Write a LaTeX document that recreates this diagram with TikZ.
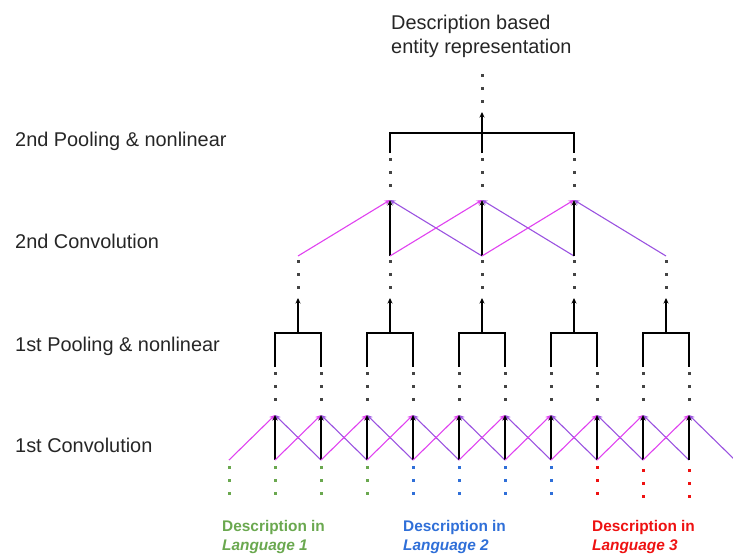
\documentclass[tikz,border=0pt]{standalone}
\usepackage{fontspec}
\setmainfont{Liberation Sans}
\usetikzlibrary{arrows.meta}
\definecolor{mag}{HTML}{E042F0}
\definecolor{pur}{HTML}{9A52E0}
\definecolor{lgreen}{HTML}{6AA84F}
\definecolor{lblue}{HTML}{2F6FD8}
\definecolor{lred}{HTML}{EE1111}
\definecolor{dotgray}{HTML}{444444}
\begin{document}
\begin{tikzpicture}[x=1pt,y=-1pt,
  conn/.style={line width=1.1pt, -{Stealth[length=5.5pt,width=5pt]}},
  bracket/.style={line width=1.1pt, black},
  dotmark/.style={fill=#1, minimum size=3pt, inner sep=0pt, shape=rectangle},
  lab/.style={font=\fontsize{19.9}{23}\selectfont, anchor=base west, text=black!85, inner sep=0pt},
  langlab/.style={font=\fontsize{15.4}{19}\selectfont\bfseries, anchor=base west, text=#1, inner sep=0pt}
]
\clip (0,0) rectangle (733,558);
\useasboundingbox (0,0) rectangle (733,558);

% ---------- labels ----------
\node[lab] (l1) at (15,146) {2nd Pooling \& nonlinear};
\node[lab] (l2) at (15,248) {2nd Convolution};
\node[lab] (l3) at (15,351) {1st Pooling \& nonlinear};
\node[lab] (l4) at (15,452) {1st Convolution};
\node[lab] (topa) at (391,29) {Description based};
\node[lab] (topb) at (391,53) {entity representation};

\node[langlab=lgreen] (g1) at (222,531) {Description in};
\node[langlab=lgreen] (g2) at (222,550) {\itshape Language 1};
\node[langlab=lblue] (u1) at (403,531) {Description in};
\node[langlab=lblue] (u2) at (403,550) {\itshape Language 2};
\node[langlab=lred] (r1) at (592,531) {Description in};
\node[langlab=lred] (r2) at (592,550) {\itshape Language 3};

% ---------- input dots ----------
\foreach \i/\c/\o in {0/lgreen/0,1/lgreen/0,2/lgreen/0,3/lgreen/0,4/lblue/0,5/lblue/0,6/lblue/0,7/lblue/0,8/lred/0,9/lred/3,10/lred/3}{
  \foreach \k/\y in {1/467,2/480,3/493}{
    \node[dotmark=\c] (in\i-\k) at ({229+46*\i},{\y+\o}) {};
  }
}

% ---------- 1st convolution ----------
\foreach \i in {0,...,11}{ \coordinate (b\i) at ({229+46*\i},460); }
\foreach \i in {1,...,10}{ \coordinate (t\i) at ({229+46*\i},415); }
\foreach \i in {1,...,10}{
  \pgfmathtruncatemacro\l{\i-1}
  \pgfmathtruncatemacro\r{\i+1}
  \draw[conn, mag] (b\l) -- (t\i);
  \draw[conn, pur] (b\r) -- (t\i);
  \draw[conn, black] (b\i) -- (t\i);
  \foreach \k/\y in {1/373,2/386,3/399}{
    \node[dotmark=dotgray] (c1d\i-\k) at ({229+46*\i},\y) {};
  }
}

% ---------- 1st pooling ----------
\foreach \j in {0,...,4}{
  \pgfmathtruncatemacro\a{2*\j+1}
  \pgfmathtruncatemacro\b{2*\j+2}
  \coordinate (pl\j) at ({229+46*\a},367);
  \coordinate (plt\j) at ({229+46*\a},333);
  \coordinate (pr\j) at ({229+46*\b},367);
  \coordinate (prt\j) at ({229+46*\b},333);
  \coordinate (pc\j) at ({298+92*\j},333);
  \coordinate (pt\j) at ({298+92*\j},298);
  \draw[bracket] (pl\j) -- (plt\j) -- (prt\j) -- (pr\j);
  \draw[conn] (pc\j) -- (pt\j);
  \foreach \k/\y in {1/261,2/274,3/287}{
    \node[dotmark=dotgray] (p1d\j-\k) at ({298+92*\j},\y) {};
  }
  \coordinate (cb\j) at ({298+92*\j},256);
}

% ---------- 2nd convolution ----------
\foreach \j in {1,2,3}{
  \pgfmathtruncatemacro\l{\j-1}
  \pgfmathtruncatemacro\r{\j+1}
  \coordinate (ct\j) at ({298+92*\j},200);
  \draw[conn, mag] (cb\l) -- (ct\j);
  \draw[conn, pur] (cb\r) -- (ct\j);
  \draw[conn, black] (cb\j) -- (ct\j);
  \foreach \k/\y in {1/159,2/172,3/185}{
    \node[dotmark=dotgray] (c2d\j-\k) at ({298+92*\j},\y) {};
  }
  \coordinate (q\j) at ({298+92*\j},153);
  \coordinate (qt\j) at ({298+92*\j},133);
}

% ---------- 2nd pooling ----------
\draw[bracket] (q1) -- (qt1) -- (qt3) -- (q3);
\draw[bracket] (q2) -- (qt2);
\coordinate (out) at (482,112);
\draw[conn] (qt2) -- (out);
\foreach \k/\y in {1/75,2/88,3/101}{
  \node[dotmark=dotgray] (od\k) at (482,\y) {};
}
\end{tikzpicture}
\end{document}
